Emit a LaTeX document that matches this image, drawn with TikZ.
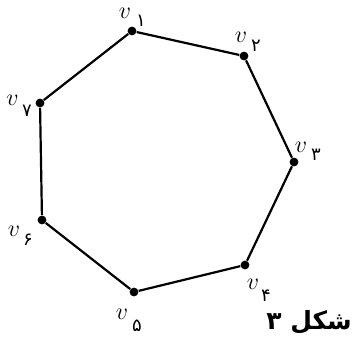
\documentclass[tikz,border=0pt]{standalone}
\usepackage{fontspec}
\usepackage{tikz}
\usetikzlibrary{arrows.meta}
\TeXXeTstate=1
\newfontfamily\arabicfont[Script=Arabic]{DejaVu Sans}

\tikzset{
  vert/.style={circle,fill=black,inner sep=0pt,minimum size=4.4pt},
  vname/.style={inner sep=0pt,font=\large},
  vdigit/.style={inner sep=0pt,font=\arabicfont\small}
}

\begin{document}
\begin{tikzpicture}[x=0.5pt,y=-0.5pt]
  \useasboundingbox (0,0) rectangle (353,344);
  % vertices of the heptagon
  \foreach \i/\x/\y in {1/132/31,2/244/56,3/294/162,4/245/265,5/134/292,6/42/220,7/40/103}
    \node[vert] (v\i) at (\x,\y) {};
  \foreach \i/\j in {1/2,2/3,3/4,4/5,5/6,6/7,7/1}
    \draw[line width=1.1pt] (v\i) -- (v\j);
  % labels: v and its persian index
  \foreach \i/\x/\y/\dx/\dy/\d in {1/125/13/141/21/۱,2/241/37/256/46/۲,3/301/147/316/155/۳,
      4/253/284/266/296/۴,5/122/314/137/326/۵,6/14/231/28/240/۶,7/12.5/100/27/111/۷}{
    \node[vname] (n\i) at (\x,\y) {$v$};
    \node[vdigit] (d\i) at (\dx,\dy) {\d};
  }
  \node[inner sep=0pt,font=\arabicfont\bfseries\fontsize{12.5}{15}\selectfont] (cap) at (309,322) {\beginR شکل ۳\endR};
\end{tikzpicture}
\end{document}
